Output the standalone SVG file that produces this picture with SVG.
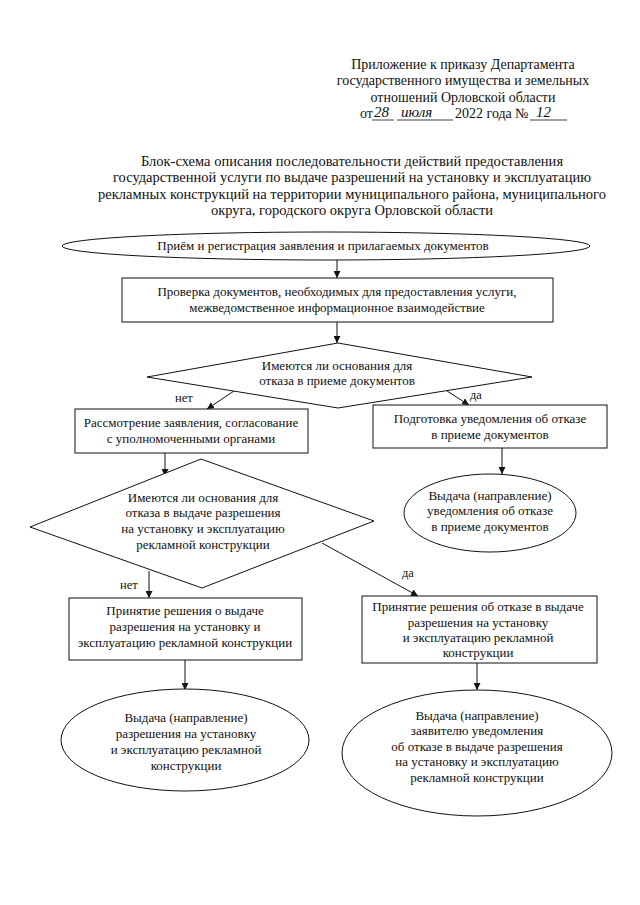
<svg xmlns="http://www.w3.org/2000/svg" width="640" height="905" viewBox="0 0 640 905">
<style>
text{font-family:"Liberation Serif","Times New Roman",serif;fill:#111;}
.h{font-size:14px;text-anchor:middle;}
.t{font-size:14.5px;text-anchor:middle;}
.n{font-size:13px;text-anchor:middle;}
.l{font-size:12.5px;}
.hw{font-family:"Liberation Serif",serif;font-style:italic;font-size:15px;}
.s{fill:#fff;stroke:#111;stroke-width:1;}
.c{stroke:#111;stroke-width:1;fill:none;marker-end:url(#a);}
.u{stroke:#111;stroke-width:0.8;}
</style>
<defs>
<marker id="a" viewBox="0 0 10 10" refX="10" refY="5" markerWidth="7" markerHeight="7" markerUnits="userSpaceOnUse" orient="auto">
<path d="M0,0 L10,5 L0,10 z" fill="#111"/>
</marker>
</defs>
<rect width="640" height="905" fill="#fff"/>
<g id="header">
<text class="h" x="463" y="69">Приложение к приказу Департамента</text>
<text class="h" x="463" y="85">государственного имущества и земельных</text>
<text class="h" x="463" y="102">отношений Орловской области</text>
<text class="h" x="360" y="118" style="text-anchor:start">от</text>
<text class="hw" x="374" y="117">28</text>
<line class="u" x1="372" y1="120" x2="394" y2="120"/>
<text class="hw" x="401" y="117">июля</text>
<line class="u" x1="397" y1="120" x2="453" y2="120"/>
<text class="h" x="455" y="118" style="text-anchor:start">2022 года №</text>
<text class="hw" x="536" y="117">12</text>
<line class="u" x1="530" y1="120" x2="567" y2="120"/>
</g>
<g id="title">
<text class="t" x="352" y="166">Блок-схема описания последовательности действий предоставления</text>
<text class="t" x="352" y="182">государственной услуги по выдаче разрешений на установку и эксплуатацию</text>
<text class="t" x="352" y="199">рекламных конструкций на территории муниципального района, муниципального</text>
<text class="t" x="352" y="215">округа, городского округа Орловской области</text>
</g>
<g id="connectors">
<line class="c" x1="337" y1="260" x2="337" y2="278"/>
<line class="c" x1="337" y1="322" x2="337" y2="343"/>
<line class="c" x1="237" y1="389" x2="207" y2="409"/>
<line class="c" x1="447" y1="391" x2="469" y2="405"/>
<line class="c" x1="165" y1="453" x2="165" y2="476"/>
<line class="c" x1="502" y1="448" x2="502" y2="474"/>
<line class="c" x1="149" y1="571" x2="149" y2="598"/>
<line class="c" x1="322" y1="543" x2="418" y2="596"/>
<line class="c" x1="185" y1="660" x2="185" y2="690"/>
<line class="c" x1="477" y1="663" x2="477" y2="690"/>
<text class="l" x="175" y="402">нет</text>
<text class="l" x="470" y="399">да</text>
<text class="l" x="120" y="589">нет</text>
<text class="l" x="402" y="577">да</text>
</g>
<g id="n1">
<ellipse class="s" cx="326" cy="246" rx="264" ry="14"/>
<text class="n" x="323" y="250">Приём и регистрация заявления и прилагаемых документов</text>
</g>
<g id="n2">
<rect class="s" x="122" y="278" width="431" height="44"/>
<text class="n" x="337" y="296">Проверка документов, необходимых для предоставления услуги,</text>
<text class="n" x="337" y="312">межведомственное информационное взаимодействие</text>
</g>
<g id="n3">
<polygon class="s" points="338,343 532,377 338,408 147,377"/>
<text class="n" x="337" y="370">Имеются ли основания для</text>
<text class="n" x="337" y="385">отказа в приеме документов</text>
</g>
<g id="n4">
<rect class="s" x="75" y="409" width="233" height="44"/>
<text class="n" x="191" y="427">Рассмотрение заявления, согласование</text>
<text class="n" x="191" y="443">с уполномоченными органами</text>
</g>
<g id="n5">
<rect class="s" x="373" y="405" width="234" height="43"/>
<text class="n" x="490" y="423">Подготовка уведомления об отказе</text>
<text class="n" x="490" y="439">в приеме документов</text>
</g>
<g id="n6">
<ellipse class="s" cx="490" cy="513" rx="86" ry="39"/>
<text class="n" x="490" y="500">Выдача (направление)</text>
<text class="n" x="490" y="515">уведомления об отказе</text>
<text class="n" x="490" y="531">в приеме документов</text>
</g>
<g id="n7">
<polygon class="s" points="201,459 374,521 202,588 30,527"/>
<text class="n" x="203" y="502">Имеются ли основания для</text>
<text class="n" x="203" y="517">отказа в выдаче разрешения</text>
<text class="n" x="203" y="533">на установку и эксплуатацию</text>
<text class="n" x="203" y="549">рекламной конструкции</text>
</g>
<g id="n8">
<rect class="s" x="69" y="598" width="233" height="62"/>
<text class="n" x="185" y="615">Принятие решения о выдаче</text>
<text class="n" x="185" y="631">разрешения на установку и</text>
<text class="n" x="185" y="647">эксплуатацию рекламной конструкции</text>
</g>
<g id="n9">
<rect class="s" x="362" y="596" width="235" height="67"/>
<text class="n" x="478" y="611">Принятие решения об отказе в выдаче</text>
<text class="n" x="478" y="627">разрешения на установку</text>
<text class="n" x="478" y="642">и эксплуатацию рекламной</text>
<text class="n" x="478" y="657">конструкции</text>
</g>
<g id="n10">
<ellipse class="s" cx="185" cy="740" rx="124" ry="51"/>
<text class="n" x="186" y="722">Выдача (направление)</text>
<text class="n" x="186" y="738">разрешения на установку</text>
<text class="n" x="186" y="754">и эксплуатацию рекламной</text>
<text class="n" x="186" y="770">конструкции</text>
</g>
<g id="n11">
<ellipse class="s" cx="477" cy="753" rx="135" ry="63"/>
<text class="n" x="477" y="720">Выдача (направление)</text>
<text class="n" x="477" y="735">заявителю уведомления</text>
<text class="n" x="477" y="751">об отказе в выдаче разрешения</text>
<text class="n" x="477" y="766">на установку и эксплуатацию</text>
<text class="n" x="477" y="782">рекламной конструкции</text>
</g>
</svg>
